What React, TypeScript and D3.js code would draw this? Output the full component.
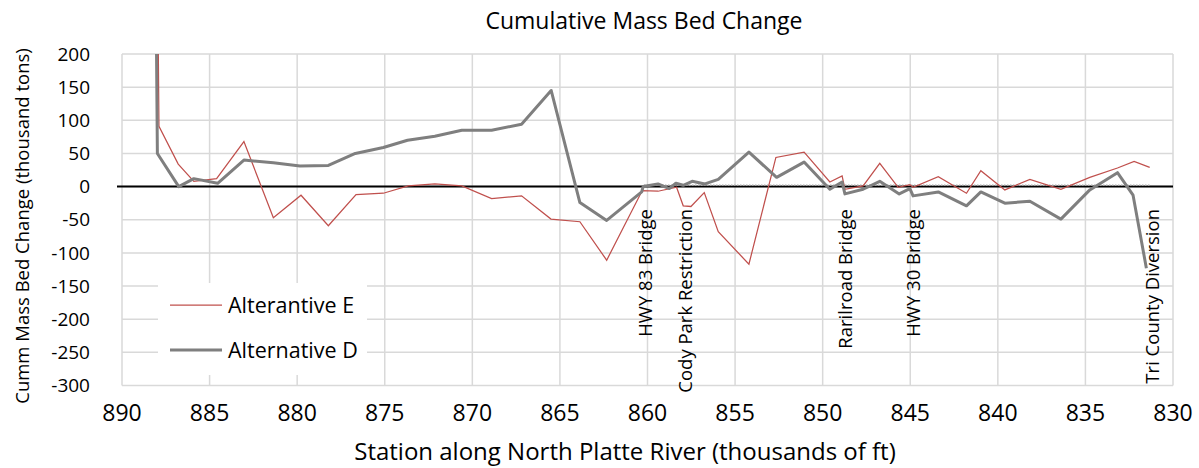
import React from "react";
import * as d3 from "d3";

// station (thousands of ft) and cumulative change (thousand tons)
const stationsE = [888.0, 887.89, 886.79, 885.9, 884.6, 883.04, 881.36, 879.78, 878.22, 876.64, 875.08, 873.66, 872.14, 870.6, 868.9, 867.19, 865.51, 863.86, 862.33, 860.3, 859.4, 858.34, 857.96, 857.52, 856.76, 855.96, 854.21, 852.67, 851.06, 849.59, 848.89, 848.73, 847.69, 846.74, 845.69, 845.02, 844.84, 843.4, 841.79, 840.97, 839.6, 838.17, 836.4, 834.75, 833.17, 832.22, 831.33];
const valuesE = [420, 91, 34, 8, 12, 68, -47, -13, -59, -12, -10, 1, 4, 1, -18, -14, -49, -53, -111, -6, -7, -1, -29, -30, -9, -68, -117, 44, 52, 7, 16, -4, 1, 35, -1, 3, -1, 15, -10, 24, -5, 11, -4, 14, 28, 38, 29];

const stationsD = [888.1, 887.98, 886.76, 885.9, 884.54, 883.04, 881.36, 879.84, 878.22, 876.68, 875.08, 873.7, 872.14, 870.6, 868.9, 867.19, 865.5, 863.86, 862.33, 860.33, 860.25, 859.4, 858.76, 858.38, 857.96, 857.45, 856.72, 855.96, 854.21, 852.63, 851.06, 849.59, 848.89, 848.73, 847.69, 846.74, 845.63, 845.02, 844.84, 843.4, 841.79, 840.97, 839.6, 838.17, 836.4, 834.75, 833.17, 832.28, 831.52];
const valuesD = [420, 50, 0, 12, 5, 40, 36, 31, 32, 50, 59, 70, 76, 85, 85, 94, 145, -24, -51, -8, 0, 4, -3, 5, 2, 8, 4, 11, 52, 14, 37, -4, 7, -11, -4, 8, -11, -3, -14, -8, -29, -8, -25, -22, -49, -5, 21, -13, -123];

// faint dotted reference near zero
const stationsRef = [860.2, 831.3];
const valuesRef = [2, 2];

const landmarks = ["HWY 83 Bridge", "Cody Park Restriction", "Rarilroad Bridge", "HWY 30 Bridge", "Tri County Diversion"];
const landmarkStations = [860.15, 857.87, 848.74, 844.86, 831.23];

const xTicks = [890, 885, 880, 875, 870, 865, 860, 855, 850, 845, 840, 835, 830];
const yTicks = [200, 150, 100, 50, 0, -50, -100, -150, -200, -250, -300];

const W = 1199;
const H = 468;
const left = 122, right = 1173, top = 54, bottom = 385.5;
const font = "'Open Sans', sans-serif";

export default function App() {
  const x = d3.scaleLinear().domain([890, 830]).range([left, right]);
  const y = d3.scaleLinear().domain([-300, 200]).range([bottom, top]);

  const line = d3.line<[number, number]>().x((d) => x(d[0])).y((d) => y(d[1]));
  const ptsE = stationsE.map((s, i) => [s, valuesE[i]] as [number, number]);
  const ptsD = stationsD.map((s, i) => [s, valuesD[i]] as [number, number]);
  const ptsRef = stationsRef.map((s, i) => [s, valuesRef[i]] as [number, number]);

  return (
    <svg width={W} height={H} style={{ position: "absolute", left: 0, top: 0, background: "#fff" }} fontFamily={font}>
      <defs>
        <clipPath id="plot">
          <rect x={left} y={top} width={right - left} height={bottom - top} />
        </clipPath>
      </defs>

      {/* grid */}
      {yTicks.map((t) => (
        <line key={"gy" + t} x1={left} x2={right} y1={y(t)} y2={y(t)} stroke="#d9d9d9" strokeWidth={1.5} />
      ))}
      {xTicks.map((t) => (
        <line key={"gx" + t} x1={x(t)} x2={x(t)} y1={top} y2={bottom} stroke="#d9d9d9" strokeWidth={1.5} />
      ))}

      {/* tick labels */}
      {yTicks.map((t) => (
        <text key={"ty" + t} x={90} y={y(t)} dy="0.35em" textAnchor="end" fontSize={19} fill="#000">{t}</text>
      ))}
      {xTicks.map((t) => (
        <text key={"tx" + t} x={x(t)} y={421} textAnchor="middle" fontSize={23} fill="#000">{t}</text>
      ))}

      {/* zero axis */}
      <line x1={117} x2={right} y1={y(0)} y2={y(0)} stroke="#000" strokeWidth={2} />

      <g clipPath="url(#plot)">
        <path d={line(ptsRef) || ""} fill="none" stroke="#a6a6a6" strokeWidth={1.5} strokeDasharray="1.5,1.5" />
        <path d={line(ptsE) || ""} fill="none" stroke="#c0504d" strokeWidth={1.25} />
        <path d={line(ptsD) || ""} fill="none" stroke="#7f7f7f" strokeWidth={3} strokeLinejoin="round" />
      </g>

      {/* landmarks */}
      {landmarks.map((name, i) => (
        <text key={name} transform={`translate(${x(landmarkStations[i])},209) rotate(-90)`} textAnchor="end" dominantBaseline="central" fontSize={18.5} fill="#000">{name}</text>
      ))}

      {/* legend */}
      <rect x={158} y={283} width={209} height={92} fill="#fff" />
      <line x1={170} x2={222} y1={305} y2={305} stroke="#c0504d" strokeWidth={1.25} />
      <text x={228} y={305} dy="0.35em" fontSize={21.5}>Alterantive E</text>
      <line x1={170} x2={222} y1={350} y2={350} stroke="#7f7f7f" strokeWidth={3} />
      <text x={228} y={350} dy="0.35em" fontSize={21.5}>Alternative D</text>

      {/* titles */}
      <text x={644} y={29} textAnchor="middle" fontSize={23}>Cumulative Mass Bed Change</text>
      <text x={625} y={460} textAnchor="middle" fontSize={24}>Station along North Platte River (thousands of ft)</text>
      <text transform={`translate(21,226) rotate(-90)`} textAnchor="middle" dominantBaseline="central" fontSize={18.5}>Cumm Mass Bed Change (thousand tons)</text>
    </svg>
  );
}
